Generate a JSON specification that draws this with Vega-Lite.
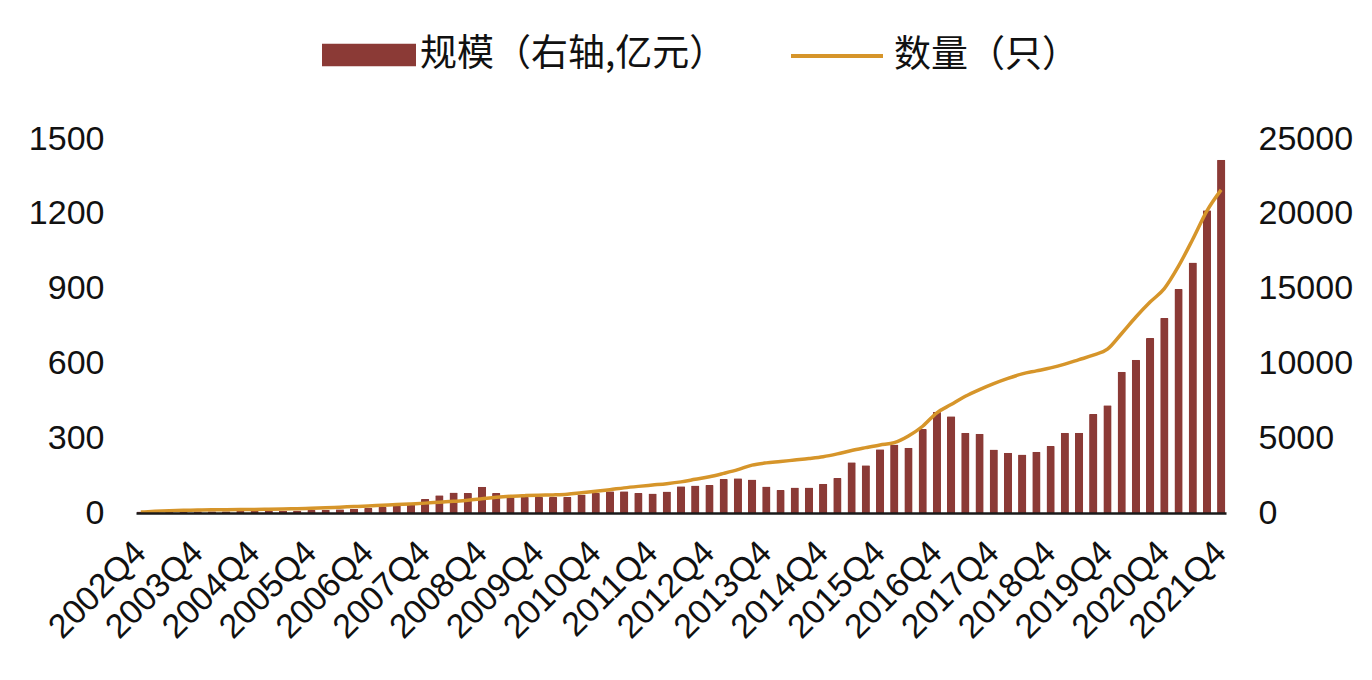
{
  "$schema": "https://vega.github.io/schema/vega-lite/v6.json",
  "width": 1090,
  "height": 374,
  "autosize": {"type": "pad"},
  "padding": {"left": 28, "top": 8, "right": 18, "bottom": 20},
  "background": "white",
  "data": {
    "values": [
      {"q": "2002Q4", "scale": 6, "count": 60},
      {"q": "2003Q1", "scale": 5, "count": 110},
      {"q": "2003Q2", "scale": 5, "count": 150},
      {"q": "2003Q3", "scale": 6, "count": 180},
      {"q": "2003Q4", "scale": 7, "count": 200},
      {"q": "2004Q1", "scale": 7, "count": 210},
      {"q": "2004Q2", "scale": 7, "count": 220},
      {"q": "2004Q3", "scale": 8, "count": 230},
      {"q": "2004Q4", "scale": 8, "count": 240},
      {"q": "2005Q1", "scale": 9, "count": 250},
      {"q": "2005Q2", "scale": 9, "count": 270},
      {"q": "2005Q3", "scale": 10, "count": 290},
      {"q": "2005Q4", "scale": 12, "count": 320},
      {"q": "2006Q1", "scale": 13, "count": 350},
      {"q": "2006Q2", "scale": 15, "count": 390},
      {"q": "2006Q3", "scale": 17, "count": 430},
      {"q": "2006Q4", "scale": 20, "count": 470},
      {"q": "2007Q1", "scale": 24, "count": 520},
      {"q": "2007Q2", "scale": 30, "count": 560},
      {"q": "2007Q3", "scale": 41, "count": 610},
      {"q": "2007Q4", "scale": 56, "count": 660},
      {"q": "2008Q1", "scale": 71, "count": 720},
      {"q": "2008Q2", "scale": 82, "count": 780},
      {"q": "2008Q3", "scale": 80, "count": 850},
      {"q": "2008Q4", "scale": 105, "count": 950},
      {"q": "2009Q1", "scale": 80, "count": 1050},
      {"q": "2009Q2", "scale": 64, "count": 1120},
      {"q": "2009Q3", "scale": 64, "count": 1160},
      {"q": "2009Q4", "scale": 64, "count": 1190},
      {"q": "2010Q1", "scale": 64, "count": 1210},
      {"q": "2010Q2", "scale": 64, "count": 1250},
      {"q": "2010Q3", "scale": 74, "count": 1350},
      {"q": "2010Q4", "scale": 80, "count": 1450},
      {"q": "2011Q1", "scale": 87, "count": 1560},
      {"q": "2011Q2", "scale": 87, "count": 1680},
      {"q": "2011Q3", "scale": 80, "count": 1780},
      {"q": "2011Q4", "scale": 78, "count": 1870},
      {"q": "2012Q1", "scale": 86, "count": 1960},
      {"q": "2012Q2", "scale": 107, "count": 2080},
      {"q": "2012Q3", "scale": 110, "count": 2250},
      {"q": "2012Q4", "scale": 112, "count": 2420},
      {"q": "2013Q1", "scale": 136, "count": 2650},
      {"q": "2013Q2", "scale": 139, "count": 2900},
      {"q": "2013Q3", "scale": 134, "count": 3200},
      {"q": "2013Q4", "scale": 106, "count": 3350},
      {"q": "2014Q1", "scale": 92, "count": 3440},
      {"q": "2014Q2", "scale": 102, "count": 3540},
      {"q": "2014Q3", "scale": 102, "count": 3640},
      {"q": "2014Q4", "scale": 117, "count": 3760},
      {"q": "2015Q1", "scale": 140, "count": 3950},
      {"q": "2015Q2", "scale": 204, "count": 4180},
      {"q": "2015Q3", "scale": 192, "count": 4370},
      {"q": "2015Q4", "scale": 256, "count": 4550},
      {"q": "2016Q1", "scale": 275, "count": 4700},
      {"q": "2016Q2", "scale": 262, "count": 5150},
      {"q": "2016Q3", "scale": 337, "count": 5800},
      {"q": "2016Q4", "scale": 405, "count": 6700},
      {"q": "2017Q1", "scale": 388, "count": 7250},
      {"q": "2017Q2", "scale": 322, "count": 7800},
      {"q": "2017Q3", "scale": 318, "count": 8250},
      {"q": "2017Q4", "scale": 255, "count": 8650},
      {"q": "2018Q1", "scale": 242, "count": 9000},
      {"q": "2018Q2", "scale": 235, "count": 9300},
      {"q": "2018Q3", "scale": 246, "count": 9500},
      {"q": "2018Q4", "scale": 269, "count": 9700},
      {"q": "2019Q1", "scale": 322, "count": 9950},
      {"q": "2019Q2", "scale": 322, "count": 10250},
      {"q": "2019Q3", "scale": 397, "count": 10550},
      {"q": "2019Q4", "scale": 432, "count": 10950},
      {"q": "2020Q1", "scale": 567, "count": 12000},
      {"q": "2020Q2", "scale": 615, "count": 13100},
      {"q": "2020Q3", "scale": 702, "count": 14100},
      {"q": "2020Q4", "scale": 782, "count": 15000},
      {"q": "2021Q1", "scale": 898, "count": 16500},
      {"q": "2021Q2", "scale": 1005, "count": 18300},
      {"q": "2021Q3", "scale": 1214, "count": 20200},
      {"q": "2021Q4", "scale": 1417, "count": 21600}
    ]
  },
  "encoding": {
    "x": {
      "field": "q",
      "type": "ordinal",
      "sort": null,
      "scale": {"paddingInner": 0.42, "paddingOuter": 0.05},
      "axis": {
        "title": null,
        "values": ["2002Q4","2003Q4","2004Q4","2005Q4","2006Q4","2007Q4","2008Q4","2009Q4","2010Q4","2011Q4","2012Q4","2013Q4","2014Q4","2015Q4","2016Q4","2017Q4","2018Q4","2019Q4","2020Q4","2021Q4"],
        "labelAngle": -45,
        "labelAlign": "right",
        "labelBaseline": "middle",
        "labelPadding": 34,
        "labelFontSize": 34,
        "labelFont": "Liberation Sans",
        "labelColor": "#111111",
        "ticks": false,
        "domain": true,
        "domainColor": "#1a1a1a",
        "domainWidth": 2.5,
        "grid": false,
        "zindex": 1
      }
    }
  },
  "layer": [
    {
      "mark": {"type": "bar", "cornerRadiusTopLeft": 1, "cornerRadiusTopRight": 1},
      "encoding": {
        "y": {
          "field": "scale",
          "type": "quantitative",
          "scale": {"domain": [0, 1500]},
          "axis": {
            "title": null,
            "orient": "left",
            "values": [0, 300, 600, 900, 1200, 1500],
            "format": "d",
            "domain": false,
            "ticks": false,
            "grid": false,
            "labelPadding": 32,
            "labelFontSize": 34,
            "labelFont": "Liberation Sans",
            "labelColor": "#111111"
          }
        },
        "fill": {
          "datum": "规模（右轴,亿元）",
          "type": "nominal",
          "scale": {"range": ["#8B3A36"]},
          "legend": {
            "orient": "none",
            "legendX": 186,
            "legendY": -131,
            "symbolType": "M-1,-0.24H1V0.24H-1Z",
            "symbolSize": 8836,
            "symbolStrokeWidth": 0,
            "labelOffset": 4
          }
        }
      }
    },
    {
      "mark": {"type": "line", "interpolate": "monotone", "strokeWidth": 3.5},
      "encoding": {
        "y": {
          "field": "count",
          "type": "quantitative",
          "scale": {"domain": [0, 25000]},
          "axis": {
            "title": null,
            "orient": "right",
            "values": [0, 5000, 10000, 15000, 20000, 25000],
            "domain": false,
            "ticks": false,
            "grid": false,
            "labelPadding": 32,
            "labelFontSize": 34,
            "labelFont": "Liberation Sans",
            "labelColor": "#111111",
            "format": "d"
          }
        },
        "stroke": {
          "datum": "数量（只）",
          "type": "nominal",
          "scale": {"range": ["#D6952A"]},
          "legend": {
            "orient": "none",
            "legendX": 653,
            "legendY": -131,
            "symbolType": "M-1,0H1",
            "symbolSize": 8464,
            "symbolStrokeWidth": 4,
            "labelOffset": 9
          }
        }
      }
    }
  ],
  "resolve": {"scale": {"y": "independent", "fill": "independent", "stroke": "independent"}},
  "config": {
    "view": {"stroke": null},
    "legend": {
      "title": null,
      "labelFontSize": 37,
      "labelFont": "Noto Sans CJK SC",
      "labelColor": "#111111",
      "labelLimit": 500,
      "padding": 0
    }
  }
}
